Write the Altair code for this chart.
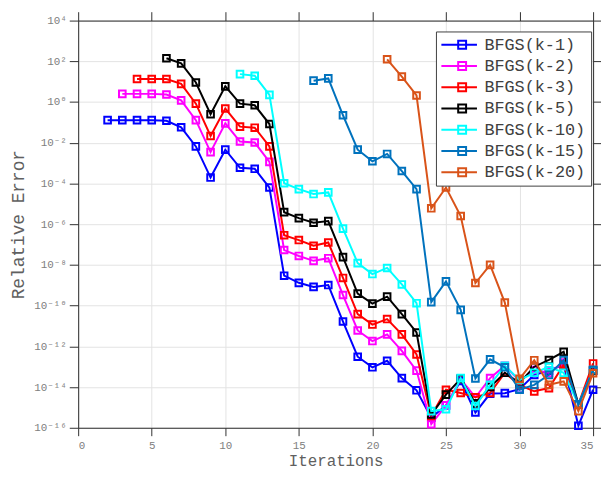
import altair as alt
import pandas as pd

# ---- data (log10 of relative error) ----
names = ["BFGS(k-1)", "BFGS(k-2)", "BFGS(k-3)", "BFGS(k-5)", "BFGS(k-10)", "BFGS(k-15)", "BFGS(k-20)"]
colors = ["#0000FF", "#FF00FF", "#FF0000", "#000000", "#00FFFF", "#0072BD", "#D95319"]
start_iter = [2, 3, 4, 6, 11, 16, 21]

log_k1 = [-0.89, -0.89, -0.89, -0.89, -0.92, -1.24, -2.18, -3.71, -2.34, -3.23, -3.28, -4.2,
          -8.53, -8.88, -9.08, -8.99, -10.78, -12.51, -13.03, -12.71, -13.56, -14.16,
          -15.5, -14.9, -13.7, -15.25, -14.32, -14.3, -14.1, -13.4, -13.2, -12.9, -15.9, -14.13]
log_k2 = [0.40, 0.40, 0.40, 0.37, 0.08, -0.89, -2.46, -1.05, -1.94, -1.99, -2.94,
          -7.27, -7.56, -7.80, -7.67, -9.48, -11.22, -11.74, -11.41, -12.22, -13.19,
          -15.82, -14.9, -13.6, -14.5, -13.56, -12.95, -13.7, -13.16, -13.3, -12.8, -14.85, -13.2]
log_k3 = [1.13, 1.13, 1.13, 0.89, -0.08, -1.67, -0.32, -1.21, -1.26, -2.18,
          -6.54, -6.78, -7.06, -6.90, -8.64, -10.42, -10.93, -10.66, -11.41, -12.40,
          -15.42, -14.13, -14.29, -14.5, -14.29, -13.3, -13.9, -14.21, -14.05, -12.9, -14.85, -12.84]
log_k5 = [2.15, 1.90, 0.96, -0.60, 0.77, -0.08, -0.16, -1.08,
          -5.41, -5.70, -5.93, -5.85, -7.62, -9.41, -9.90, -9.56, -10.42, -11.32,
          -15.35, -14.37, -13.6, -14.8, -14.0, -13.3, -13.8, -13.0, -12.67, -12.27, -14.85, -13.2]
log_k10 = [1.37, 1.29, 0.35, -3.99, -4.28, -4.52, -4.44, -6.22, -7.91, -8.45, -8.15, -8.96, -9.88,
           -15.18, -15.09, -13.56, -14.93, -13.89, -12.95, -13.65, -13.3, -13.0, -13.3, -14.85, -13.16]
log_k15 = [1.05, 1.16, -0.65, -2.34, -2.91, -2.55, -3.39, -4.28,
           -9.83, -8.81, -10.21, -13.58, -12.64, -13.03, -14.13, -13.89, -13.4, -12.67, -14.85, -13.16]
log_k20 = [2.10, 1.25, 0.32, -5.22, -4.20, -5.60, -8.89, -8.0, -9.85,
           -13.6, -12.68, -13.89, -13.72, -15.18, -13.32]
all_logs = [log_k1, log_k2, log_k3, log_k5, log_k10, log_k15, log_k20]

y_ticks = [10.0 ** p for p in range(-16, 5, 2)]
x_ticks = list(range(0, 36, 5))

rows = []
for name, s, logs in zip(names, start_iter, all_logs):
    for i, v in enumerate(logs):
        rows.append({"series": name, "iter": s + i, "err": 10.0 ** v})
df = pd.DataFrame(rows)

FONT = "Liberation Mono, DejaVu Sans Mono, monospace"
sup = str.maketrans("-0123456789", "⁻⁰¹²³⁴⁵⁶⁷⁸⁹")
e_expr = "round(log(datum.value)/LN10)"
label_expr = ""
for p in range(-16, 5, 2):
    label_expr += f"{e_expr} == {p} ? '10{str(p).translate(sup)}' : "
label_expr += "''"

xscale = alt.Scale(domain=[0, 35], nice=False, zero=False)
yscale = alt.Scale(type="log", domain=[1e-16, 1e4], nice=False)
cscale = alt.Scale(domain=names, range=colors)

legend = alt.Legend(
    title=None, orient="none", legendX=362, legendY=11,
    symbolType="M-2,0H7M2.25,-1H4.25V1H2.25Z",
    symbolSize=64, symbolStrokeWidth=2, symbolFillColor="transparent",
    labelFont=FONT, labelFontSize=17, labelColor="#404040", labelOffset=27,
    padding=5, rowPadding=3.5, strokeColor="#404040", fillColor="white",
    cornerRadius=0, symbolOpacity=1,
)

axis_common = dict(
    labelFont=FONT, labelFontSize=11, labelColor="#808080",
    domainColor="#303030", tickColor="#303030",
    gridColor="#e3e3e3", titleFont=FONT,
    titleColor="#606060", titleFontWeight="normal",
)
x_axis = alt.Axis(orient="bottom", values=x_ticks, grid=True, title="Iterations", tickSize=8,
                  labelPadding=4, titleFontSize=16, titleBaseline="alphabetic", titleY=38,
                  **axis_common)
y_axis = alt.Axis(orient="left", values=y_ticks, grid=True, title="Relative Error", tickSize=9,
                  labelExpr=label_expr, labelPadding=3, titlePadding=6, titleFontSize=18,
                  **axis_common)
top_axis = alt.Axis(orient="top", values=x_ticks, labels=False, grid=False, title=None,
                    domainColor="#303030", tickColor="#303030", tickSize=9)
right_axis = alt.Axis(orient="right", values=y_ticks, labels=False, grid=False, title=None,
                      domainColor="#303030", tickColor="#303030", tickSize=9)

layers = []
frame = alt.Chart(df).mark_point(opacity=0).encode(
    x=alt.X("iter:Q", scale=xscale, axis=x_axis),
    y=alt.Y("err:Q", scale=yscale, axis=y_axis),
)
frame2 = alt.Chart(df).mark_point(opacity=0).encode(
    x=alt.X("iter:Q", scale=xscale, axis=top_axis),
    y=alt.Y("err:Q", scale=yscale, axis=right_axis),
)
layers += [frame, frame2]
for name in names:
    sub = alt.Chart(df).transform_filter(alt.datum.series == name)
    enc = dict(
        x=alt.X("iter:Q", scale=xscale, axis=None),
        y=alt.Y("err:Q", scale=yscale, axis=None),
        color=alt.Color("series:N", scale=cscale, legend=legend),
    )
    layers.append(sub.mark_line(strokeWidth=2).encode(**enc))
    layers.append(sub.mark_point(shape="square", filled=False, size=45, strokeWidth=2, opacity=1).encode(**enc))

chart = alt.layer(*layers).resolve_axis(x="independent", y="independent").properties(
    width=521, height=412,
    autosize=alt.AutoSizeParams(type="none"),
    padding={"left": 71, "top": 10, "right": 8, "bottom": 42},
).configure_view(stroke=None).configure(background="white")

chart.save("out.html", embed_options={"renderer": "svg", "actions": False})
